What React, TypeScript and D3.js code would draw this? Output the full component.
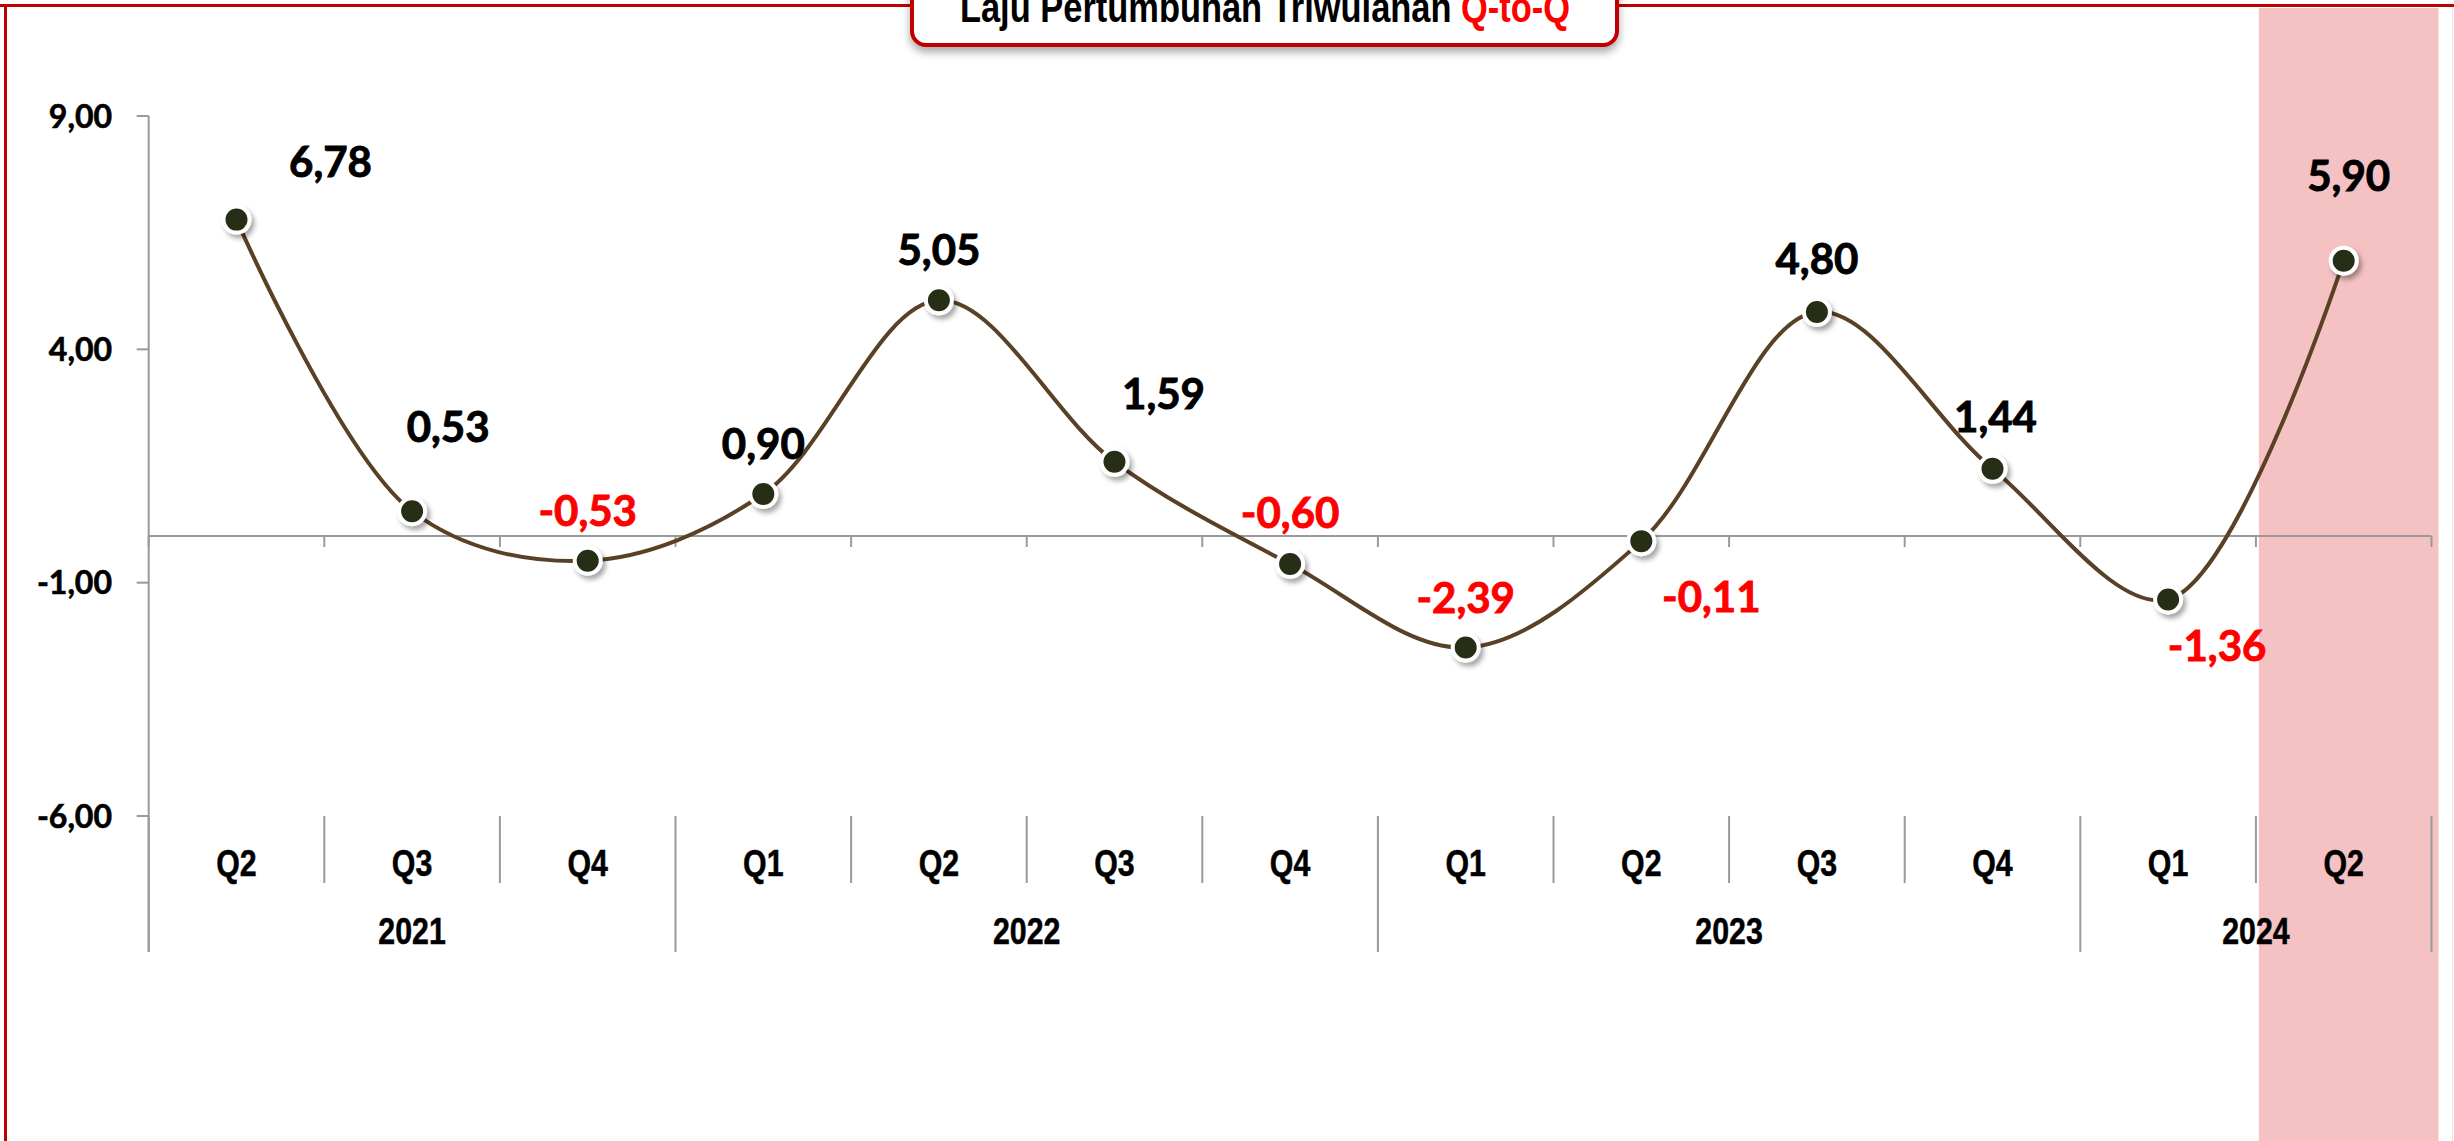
import React from "react";
import * as d3 from "d3";

// data
const quarters = ["Q2", "Q3", "Q4", "Q1", "Q2", "Q3", "Q4", "Q1", "Q2", "Q3", "Q4", "Q1", "Q2"];
const years = ["2021", "2021", "2021", "2022", "2022", "2022", "2022", "2023", "2023", "2023", "2023", "2024", "2024"];
const growth = [6.78, 0.53, -0.53, 0.9, 5.05, 1.59, -0.6, -2.39, -0.11, 4.8, 1.44, -1.36, 5.9];
const yTicks = [9, 4, -1, -6];
const highlighted = [12];

// manual label nudges (px) relative to each point, as in the source chart
const labelOffsets = [
  [94, -58], [36, -84], [0, -50], [0, -50], [0, -50], [49, -68], [0, -51],
  [0, -50], [70, 56], [0, -53], [3, -52], [49, 47], [5, -85],
];

const W = 2454;
const H = 1141;
const margin = { left: 148.7, right: 22.5, top: 116, zeroBottom: 816 };
const narrow = "'Liberation Sans', Arial, sans-serif";
const calibriLike = "Lato, 'Open Sans', sans-serif";

const fmt = d3
  .formatLocale({ decimal: ",", thousands: ".", grouping: [3], currency: ["", ""], minus: "-" })
  .format(".2f");

export default function App() {
  const idx = growth.map((_, i) => i);
  const x = d3
    .scaleBand<number>()
    .domain(idx)
    .range([margin.left, W - margin.right]);
  const y = d3.scaleLinear().domain([-6, 9]).range([margin.zeroBottom, margin.top]);
  const cx = (i: number) => (x(i) as number) + x.bandwidth() / 2;
  const y0 = y(0);

  const line = d3
    .line<number>()
    .x((_, i) => cx(i))
    .y((d) => y(d))
    .curve(d3.curveCatmullRom.alpha(0.5));

  // boundaries between categories
  const bounds = d3.range(idx.length + 1).map((i) =>
    i < idx.length ? (x(i) as number) : (x(idx.length - 1) as number) + x.bandwidth()
  );
  const isYearBound = (i: number) =>
    i === 0 || i === idx.length || years[i] !== years[i - 1];

  // year groups
  const groups = d3.groups(idx, (i) => years[i]).map(([yr, is]) => ({
    yr,
    x0: x(is[0]) as number,
    x1: (x(is[is.length - 1]) as number) + x.bandwidth(),
  }));

  const axisColor = "#9a9a9a";
  const catTop = y(-6);
  const quarterBottom = 883;
  const yearBottom = 952;

  return (
    <svg
      width={W}
      height={H}
      style={{ position: "absolute", left: 0, top: 0, background: "#fff" }}
    >
      <defs>
        <filter id="mshadow" x="-50%" y="-50%" width="200%" height="200%">
          <feDropShadow dx="3" dy="4" stdDeviation="2.5" floodColor="#000" floodOpacity="0.35" />
        </filter>
        <filter id="tshadow" x="-10%" y="-50%" width="120%" height="200%">
          <feDropShadow dx="0" dy="5" stdDeviation="4" floodColor="#000" floodOpacity="0.35" />
        </filter>
      </defs>

      {/* highlighted period */}
      {highlighted.map((i) => (
        <rect
          key={i}
          x={(x(i) as number) + 3}
          y={8}
          width={x.bandwidth() + 4}
          height={H - 8}
          fill="#F5C2C4"
        />
      ))}

      {/* outer frame */}
      <line x1={0} x2={W} y1={5.5} y2={5.5} stroke="#C00000" strokeWidth={3} />
      <line x1={5.5} x2={5.5} y1={4} y2={H} stroke="#C00000" strokeWidth={3} />
      <line x1={W - 1.5} x2={W - 1.5} y1={8} y2={H} stroke="#e6e6e6" strokeWidth={1} />

      {/* y axis */}
      <line x1={margin.left} x2={margin.left} y1={y(9)} y2={yearBottom} stroke={axisColor} strokeWidth={2} />
      {yTicks.map((t) => (
        <g key={t}>
          <line x1={margin.left - 12} x2={margin.left} y1={y(t)} y2={y(t)} stroke={axisColor} strokeWidth={2} />
          <text
            x={112}
            y={y(t) + 11.5}
            textAnchor="end"
            fontFamily={calibriLike}
            fontWeight={700}
            fontSize={32}
            fill="#000"
            stroke="#000"
            strokeWidth={0.6}
          >
            {fmt(t)}
          </text>
        </g>
      ))}

      {/* zero axis with ticks */}
      <line x1={margin.left} x2={bounds[bounds.length - 1]} y1={y0} y2={y0} stroke={axisColor} strokeWidth={2} />
      {bounds.map((b, i) => (
        <line key={i} x1={b} x2={b} y1={y0} y2={y0 + 11} stroke={axisColor} strokeWidth={2} />
      ))}

      {/* category separators */}
      {bounds.map((b, i) => (
        <line
          key={"s" + i}
          x1={b}
          x2={b}
          y1={catTop}
          y2={isYearBound(i) ? yearBottom : quarterBottom}
          stroke={axisColor}
          strokeWidth={2}
        />
      ))}

      {/* quarter labels */}
      {quarters.map((q, i) => (
        <text
          key={"q" + i}
          transform={`translate(${cx(i)},876) scale(0.82,1)`}
          textAnchor="middle"
          fontFamily={narrow}
          fontWeight={700}
          fontSize={37}
          fill="#000"
          stroke="#000"
          strokeWidth={0.5}
        >
          {q}
        </text>
      ))}
      {groups.map((g) => (
        <text
          key={g.yr}
          transform={`translate(${(g.x0 + g.x1) / 2},944) scale(0.82,1)`}
          textAnchor="middle"
          fontFamily={narrow}
          fontWeight={700}
          fontSize={37}
          fill="#000"
          stroke="#000"
          strokeWidth={0.5}
        >
          {g.yr}
        </text>
      ))}

      {/* series */}
      <path d={line(growth) as string} fill="none" stroke="#5A4125" strokeWidth={4} />
      {growth.map((v, i) => (
        <circle
          key={"m" + i}
          cx={cx(i)}
          cy={y(v)}
          r={13}
          fill="#272E15"
          stroke="#fff"
          strokeWidth={4}
          filter="url(#mshadow)"
        />
      ))}
      {growth.map((v, i) => (
        <text
          key={"l" + i}
          x={cx(i) + labelOffsets[i][0]}
          y={y(v) + labelOffsets[i][1] + 15}
          textAnchor="middle"
          fontFamily={calibriLike}
          fontWeight={700}
          fontSize={42}
          fill={v < 0 ? "#FF0000" : "#000"}
          stroke={v < 0 ? "#FF0000" : "#000"}
          strokeWidth={0.9}
        >
          {fmt(v)}
        </text>
      ))}

      {/* title box */}
      <rect
        x={912}
        y={-30}
        width={705}
        height={75}
        rx={14}
        fill="#fff"
        stroke="#C00000"
        strokeWidth={4}
        filter="url(#tshadow)"
      />
      <text
        transform="translate(1265,22) scale(0.82,1)"
        textAnchor="middle"
        fontFamily={narrow}
        fontWeight={700}
        fontSize={42}
        fill="#000"
      >
        Laju Pertumbuhan Triwulanan <tspan fill="#FF0000">Q-to-Q</tspan>
      </text>
    </svg>
  );
}
